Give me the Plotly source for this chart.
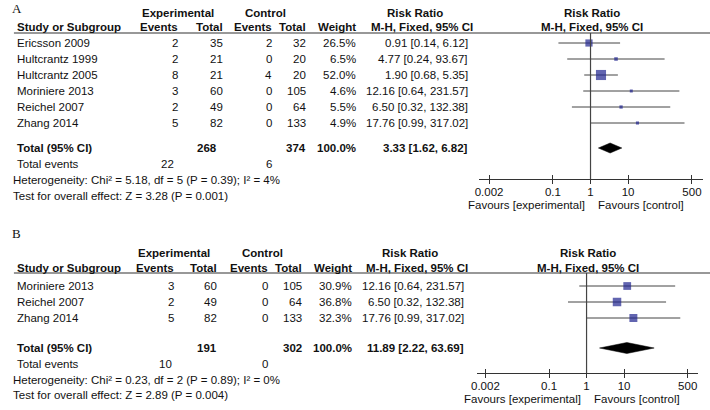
import math
import plotly.graph_objects as go

W, H = 710, 410
SANS = "Liberation Sans, Arial, sans-serif"
SERIF = "Liberation Serif, Times New Roman, serif"
INK = "#111111"
FS = 11.5

# ---- panel A data ----
studies_a = ["Ericsson 2009", "Hultcrantz 1999", "Hultcrantz 2005", "Moriniere 2013", "Reichel 2007", "Zhang 2014"]
exp_events_a = [2, 2, 8, 3, 2, 5]
exp_total_a = [35, 21, 21, 60, 49, 82]
ctl_events_a = [2, 0, 4, 0, 0, 0]
ctl_total_a = [32, 20, 20, 105, 64, 133]
weight_a = [26.5, 6.5, 52.0, 4.6, 5.5, 4.9]
rr_a = [0.91, 4.77, 1.90, 12.16, 6.50, 17.76]
lo_a = [0.14, 0.24, 0.68, 0.64, 0.32, 0.99]
hi_a = [6.12, 93.67, 5.35, 231.57, 132.38, 317.02]
pooled_a = [3.33, 1.62, 6.82]
totals_a = [268, 374, 22, 6]
het_a = "Heterogeneity: Chi² = 5.18, df = 5 (P = 0.39); I² = 4%"
test_a = "Test for overall effect: Z = 3.28 (P = 0.001)"

# ---- panel B data ----
studies_b = ["Moriniere 2013", "Reichel 2007", "Zhang 2014"]
exp_events_b = [3, 2, 5]
exp_total_b = [60, 49, 82]
ctl_events_b = [0, 0, 0]
ctl_total_b = [105, 64, 133]
weight_b = [30.9, 36.8, 32.3]
rr_b = [12.16, 6.50, 17.76]
lo_b = [0.64, 0.32, 0.99]
hi_b = [231.57, 132.38, 317.02]
pooled_b = [11.89, 2.22, 63.69]
totals_b = [191, 302, 10, 0]
het_b = "Heterogeneity: Chi² = 0.23, df = 2 (P = 0.89); I² = 0%"
test_b = "Test for overall effect: Z = 2.89 (P = 0.004)"

tick_vals = [0.002, 0.1, 1, 10, 500]
tick_text = ["0.002", "0.1", "1", "10", "500"]

fig = go.Figure()


def ann(x, y, text, anchor="left", bold=False, size=FS, family=SANS):
    fig.add_annotation(
        x=x / W, y=1 - y / H, xref="paper", yref="paper",
        text=f"<b>{text}</b>" if bold else text, showarrow=False,
        xanchor=anchor, yanchor="middle", align=anchor, borderpad=0,
        font=dict(size=size, family=family, color=INK),
    )


def draw_panel(idx, label, g, studies, ee, et, ce, ct, wt, rr, lo, hi, pooled, totals, het, test):
    xa = "x" if idx == 1 else f"x{idx}"
    ya = "y" if idx == 1 else f"y{idx}"
    cols = g["cols"]

    ann(5, g["label_y"], label, size=13, family=SERIF)
    # header
    ann(g["exp_c"], g["h1"], "Experimental", anchor="center", bold=True)
    ann(g["ctl_c"], g["h1"], "Control", anchor="center", bold=True)
    ann(g["rr_c"], g["h1"], "Risk Ratio", anchor="center", bold=True)
    ann(g["center"] + 1, g["h1"], "Risk Ratio", anchor="center", bold=True)
    ann(10, g["h2"], "Study or Subgroup", bold=True)
    for c, t in zip(cols, ["Events", "Total", "Events", "Total", "Weight"]):
        ann(c, g["h2"], t, anchor="right", bold=True)
    ann(g["rr_c"] + 8, g["h2"], "M-H, Fixed, 95% CI", anchor="center", bold=True)
    ann(g["center"] + 1, g["h2"], "M-H, Fixed, 95% CI", anchor="center", bold=True)
    fig.add_shape(type="line", xref="paper", yref="paper", x0=8 / W, x1=1,
                  y0=1 - g["rule"] / H, y1=1 - g["rule"] / H, line=dict(color="#333", width=1.2))

    rows = [g["row0"] + i * g["row_h"] for i in range(len(studies))]
    for i, y in enumerate(rows):
        ann(10, y, studies[i])
        vals = [ee[i], et[i], ce[i], ct[i], f"{wt[i]:.1f}%"]
        for c, v in zip(cols, vals):
            ann(c, y, str(v), anchor="right")
        ann(g["rr_r"], y, f"{rr[i]:.2f} [{lo[i]:.2f}, {hi[i]:.2f}]", anchor="right")

    ty = g["total_y"]
    ann(10, ty, "Total (95% CI)", bold=True)
    ann(g["tot_exp"], ty, str(totals[0]), anchor="right", bold=True)
    ann(cols[3], ty, str(totals[1]), anchor="right", bold=True)
    ann(cols[4], ty, "100.0%", anchor="right", bold=True)
    ann(g["rr_r"], ty, f"{pooled[0]:.2f} [{pooled[1]:.2f}, {pooled[2]:.2f}]", anchor="right", bold=True)
    ann(10, g["ev_y"], "Total events")
    ann(g["ev_exp"], g["ev_y"], str(totals[2]), anchor="right")
    ann(cols[2], g["ev_y"], str(totals[3]), anchor="right")
    ann(6, g["het_y"], het)
    ann(6, g["test_y"], test)

    ann(g["center"] - 5, g["fav_y"], "Favours [experimental]", anchor="right")
    ann(g["center"] + 7, g["fav_y"], "Favours [control]", anchor="left")

    # confidence intervals
    cx, cy = [], []
    for i, y in enumerate(rows):
        cx += [lo[i], hi[i], None]
        cy += [y, y, None]
    fig.add_trace(go.Scatter(x=cx, y=cy, mode="lines", line=dict(color="#444", width=1),
                             xaxis=xa, yaxis=ya, hoverinfo="skip", showlegend=False))
    fig.add_trace(go.Scatter(x=rr, y=rows, mode="markers",
                             marker=dict(symbol="square", color="#1f248f",
                                         size=[1.4 * math.sqrt(w) for w in wt], line=dict(width=0)),
                             xaxis=xa, yaxis=ya, hoverinfo="skip", showlegend=False))
    dh = g["dia_h"]
    fig.add_trace(go.Scatter(x=[pooled[1], pooled[0], pooled[2], pooled[0], pooled[1]],
                             y=[ty, ty - dh, ty, ty + dh, ty], mode="lines", fill="toself",
                             fillcolor="black", line=dict(color="black", width=0.5),
                             xaxis=xa, yaxis=ya, hoverinfo="skip", showlegend=False))
    # line of no effect
    fig.add_shape(type="line", xref=xa, yref=f"{ya} domain", x0=1, x1=1, y0=0, y1=1,
                  line=dict(color="#444", width=1.2))

    left, right, c, ppd = g["ax_l"], g["ax_r"], g["center"], g["ppd"]
    fig.update_layout(**{
        ("xaxis" if idx == 1 else f"xaxis{idx}"): dict(
            type="log", domain=[left / W, right / W],
            range=[(left - c) / ppd, (right - c) / ppd], anchor=ya,
            tickvals=tick_vals, ticktext=tick_text, ticks="inside", ticklen=4,
            tickcolor="#333", minor=dict(tickvals=tick_vals, ticks="outside", ticklen=4, tickcolor="#333"),
            ticklabelstandoff=2,
            showline=True, linecolor="#333", linewidth=1.2, showgrid=False, zeroline=False,
            tickfont=dict(family=SANS, size=FS, color=INK),
        ),
        ("yaxis" if idx == 1 else f"yaxis{idx}"): dict(
            domain=[1 - g["axis_y"] / H, 1 - g["rule"] / H],
            range=[g["axis_y"], g["rule"]], anchor=xa, visible=False,
        ),
    })


geom_a = dict(label_y=8, h1=13, h2=27, rule=33, row0=43, row_h=16, total_y=148, ev_y=164,
              het_y=180, test_y=196, axis_y=179, fav_y=205,
              cols=[174, 220, 269, 304, 354], exp_c=173, ctl_c=262, rr_c=412, rr_r=467,
              tot_exp=214, ev_exp=170, center=589.5, ppd=37.9, ax_l=477, ax_r=703, dia_h=5)
geom_b = dict(label_y=234, h1=253, h2=268, rule=273, row0=286, row_h=16, total_y=348, ev_y=364,
              het_y=380, test_y=395, axis_y=373, fav_y=399,
              cols=[170, 214, 265, 300, 350], exp_c=169, ctl_c=259, rr_c=407, rr_r=463,
              tot_exp=214, ev_exp=168, center=585.5, ppd=37.8, ax_l=475, ax_r=698, dia_h=5.5)

draw_panel(1, "A", geom_a, studies_a, exp_events_a, exp_total_a, ctl_events_a, ctl_total_a,
           weight_a, rr_a, lo_a, hi_a, pooled_a, totals_a, het_a, test_a)
draw_panel(2, "B", geom_b, studies_b, exp_events_b, exp_total_b, ctl_events_b, ctl_total_b,
           weight_b, rr_b, lo_b, hi_b, pooled_b, totals_b, het_b, test_b)

fig.update_layout(
    width=W, height=H, margin=dict(l=0, r=0, t=0, b=0),
    paper_bgcolor="white", plot_bgcolor="rgba(0,0,0,0)", showlegend=False,
)

# the default page keeps the browser's 8px body margin; drop it so the figure sits at 0,0
fig.write_html("out.html", config={"displayModeBar": False},
               post_script="document.body.style.margin='0';")
